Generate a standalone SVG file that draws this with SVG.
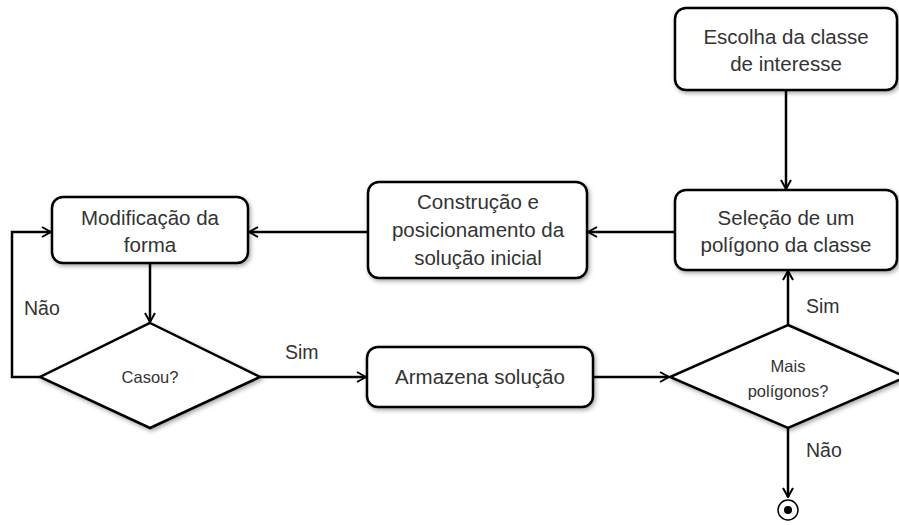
<svg xmlns="http://www.w3.org/2000/svg" width="899" height="525" viewBox="0 0 899 525">
<style>
.box{fill:#fff;stroke:#000;stroke-width:2.5;filter:url(#sh)}
.t{font-family:"Liberation Sans",Arial,sans-serif;font-size:20.5px;fill:#333;text-anchor:middle}
.s{font-family:"Liberation Sans",Arial,sans-serif;font-size:16.5px;fill:#333;text-anchor:middle}
.l{font-family:"Liberation Sans",Arial,sans-serif;font-size:19.5px;fill:#333}
.c{fill:none;stroke:#000;stroke-width:2.5;marker-end:url(#ar)}
</style>
<defs>
<filter id="sh" x="-10%" y="-10%" width="125%" height="130%">
<feDropShadow dx="1.5" dy="2" stdDeviation="2" flood-color="#000" flood-opacity="0.35"/>
</filter>
<marker id="ar" viewBox="0 0 12 12" refX="11" refY="6" markerWidth="12" markerHeight="12" markerUnits="userSpaceOnUse" orient="auto">
<path d="M2,1 L11,6 L2,11" fill="none" stroke="#000" stroke-width="2"/>
</marker>
</defs>
<rect width="899" height="525" fill="#fff"/>
<g id="connectors">
<path class="c" d="M786,90 V189"/>
<path class="c" d="M675,232 H588"/>
<path class="c" d="M368,232 H249"/>
<path class="c" d="M150,263 V322"/>
<path class="c" d="M40,377 H12 V232 H51"/>
<path class="c" d="M260,377 H366"/>
<path class="c" d="M593,377 H669"/>
<path class="c" d="M788,325 V271"/>
<path class="c" d="M788,428 V497"/>
</g>
<g id="escolha"><rect class="box" x="675" y="8" width="222" height="82" rx="11"/>
<text class="t" x="786" y="44">Escolha da classe</text><text class="t" x="786" y="71">de interesse</text></g>
<g id="selecao"><rect class="box" x="675" y="190" width="222" height="80" rx="11"/>
<text class="t" x="786" y="225">Seleção de um</text><text class="t" x="786" y="252">polígono da classe</text></g>
<g id="construcao"><rect class="box" x="368" y="182" width="219" height="96" rx="11"/>
<text class="t" x="478" y="209">Construção e</text><text class="t" x="478" y="237">posicionamento da</text><text class="t" x="478" y="265">solução inicial</text></g>
<g id="modificacao"><rect class="box" x="52" y="197" width="196" height="66" rx="11"/>
<text class="t" x="150" y="225">Modificação da</text><text class="t" x="150" y="252">forma</text></g>
<g id="casou"><polygon class="box" points="150,323 260,377 150,428 40,377"/>
<text class="s" x="150" y="383">Casou?</text></g>
<g id="armazena"><rect class="box" x="367" y="347" width="226" height="60" rx="11"/>
<text class="t" x="480" y="384">Armazena solução</text></g>
<g id="mais"><polygon class="box" points="788,325 906,377 788,428 670,377"/>
<text class="s" x="788" y="372">Mais</text><text class="s" x="788" y="397">polígonos?</text></g>
<g id="fim"><circle cx="788" cy="510" r="10" fill="#fff" stroke="#000" stroke-width="1.5"/><circle cx="788" cy="510" r="4" fill="#000"/></g>
<g id="labels">
<text class="l" x="24" y="315">Não</text>
<text class="l" x="285" y="359">Sim</text>
<text class="l" x="806" y="313">Sim</text>
<text class="l" x="806" y="457">Não</text>
</g>
</svg>
